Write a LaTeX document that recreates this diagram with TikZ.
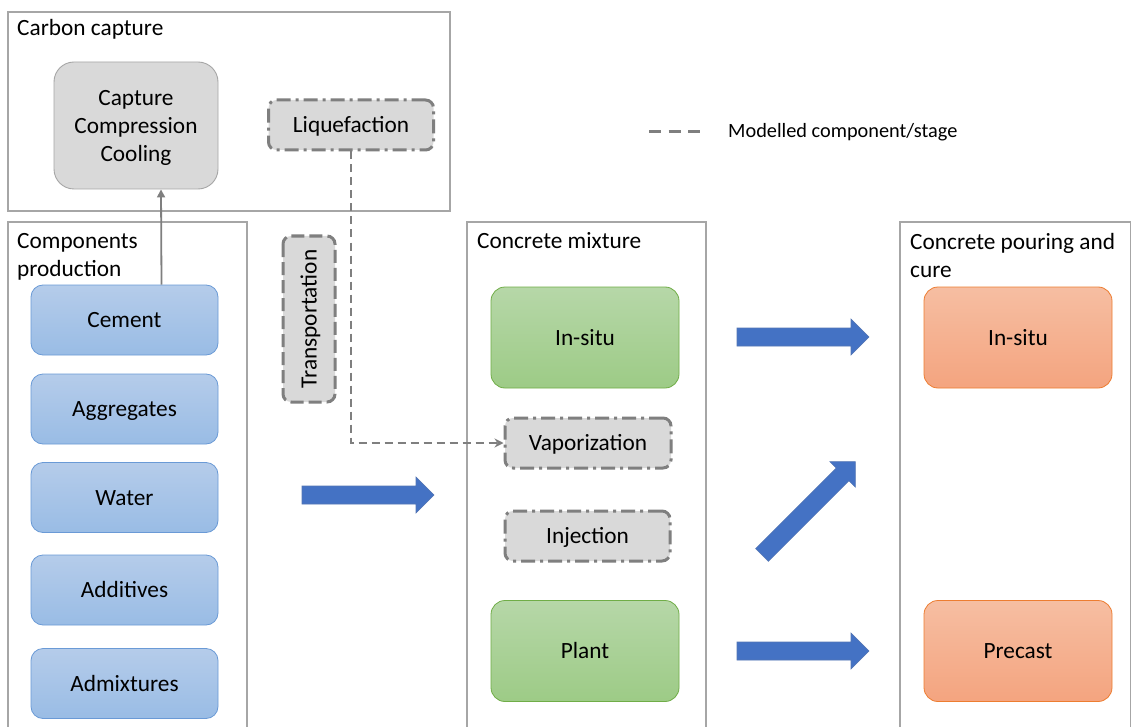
\documentclass[tikz,border=0pt]{standalone}
\usepackage{fontspec}
\setmainfont{Carlito}
\usetikzlibrary{arrows.meta}
\definecolor{framegray}{HTML}{A6A6A6}
\definecolor{dashgray}{HTML}{7F7F7F}
\definecolor{boxgray}{HTML}{D9D9D9}
\definecolor{bluetop}{HTML}{B5CCEA}
\definecolor{bluebot}{HTML}{99BCE5}
\definecolor{blueline}{HTML}{6A9AD6}
\definecolor{greentop}{HTML}{B6D7A8}
\definecolor{greenbot}{HTML}{9DCB86}
\definecolor{greenline}{HTML}{70AD47}
\definecolor{orangetop}{HTML}{F6BEA2}
\definecolor{orangebot}{HTML}{F4A47F}
\definecolor{orangeline}{HTML}{ED7D31}
\definecolor{arrowblue}{HTML}{4472C4}
\tikzset{
  txt/.style={font=\fontsize{23.3}{28}\selectfont, text=black},
  ctxt/.style={txt, text height=15pt, text depth=0pt},
  legtxt/.style={font=\fontsize{20.3}{24}\selectfont, text=black},
  frame/.style={draw=framegray, line width=1.1pt},
  comp/.style={ctxt, rectangle, rounded corners=12pt, minimum width=187pt, minimum height=70pt,
    top color=bluetop, bottom color=bluebot, draw=blueline, line width=0.8pt, inner sep=0pt},
  greenbox/.style={ctxt, rectangle, rounded corners=14pt, minimum width=188pt, minimum height=101pt,
    top color=greentop, bottom color=greenbot, draw=greenline, line width=0.8pt, inner sep=0pt},
  orangebox/.style={ctxt, rectangle, rounded corners=14pt, minimum width=188pt, minimum height=101pt,
    top color=orangetop, bottom color=orangebot, draw=orangeline, line width=0.8pt, inner sep=0pt},
  dashdotbox/.style={ctxt, rectangle, rounded corners=8pt, fill=boxgray, draw=dashgray, line width=3pt,
    dash pattern=on 14pt off 5pt on 3pt off 5pt, minimum width=165pt, minimum height=50pt, inner sep=0pt},
  dashbox/.style={ctxt, rectangle, rounded corners=8pt, fill=boxgray, draw=dashgray, line width=3pt,
    dash pattern=on 13pt off 5pt, inner sep=0pt},
  conn/.style={draw=dashgray, line width=2.2pt, dash pattern=on 8pt off 5pt},
  blockarrow/.pic={
    \filldraw[fill=arrowblue, draw=arrowblue!75!gray, line width=0.6pt]
      (0,-9) -- (114,-9) -- (114,-18) -- (132,0) -- (114,18) -- (114,9) -- (0,9) -- cycle;
  },
}
\begin{document}
\begin{tikzpicture}[x=1pt,y=-1pt]
\useasboundingbox (0,0) rectangle (1131,727);
\fill[white] (0,0) rectangle (1131,727);

% frames
\draw[frame] (8,12) rectangle (450,211);
\draw[frame] (8,730) -- (8,222) -- (247,222) -- (247,730);
\draw[frame] (467,730) -- (467,222) -- (706,222) -- (706,730);
\draw[frame] (900,730) -- (900,222) -- (1130.5,222) -- (1130.5,730);

% frame titles
\node[txt, anchor=base west, inner sep=0pt] (t1) at (17,35.5) {Carbon capture};
\node[txt, anchor=north west, align=left, inner sep=0pt] (t2) at (17,233.5) {Components\\production};
\node[txt, anchor=base west, inner sep=0pt] (t3) at (477,248) {Concrete mixture};
\node[txt, anchor=north west, align=left, inner sep=0pt] (t4) at (910,233.5) {Concrete pouring and\\cure};

% carbon capture content
\node[txt, text depth=0pt, rectangle, rounded corners=20pt, fill=boxgray, draw=framegray, line width=0.9pt,
  minimum width=164pt, minimum height=127pt, align=center, inner sep=0pt] (cap) at (136,125.5)
  {Capture\\Compression\\Cooling};
\node[dashdotbox] (liq) at (351,125) {Liquefaction};

% legend
\coordinate (lega) at (649,132);
\coordinate (legb) at (700,132);
\draw[draw=dashgray, line width=3pt, dash pattern=on 12pt off 7.5pt] (lega) -- (legb);
\node[legtxt, anchor=base west, inner sep=0pt] (leg) at (728,137.5) {Modelled component/stage};

% components
\node[comp] (cement) at (124.5,320) {Cement};
\node[comp] (aggr) at (124.5,409) {Aggregates};
\node[comp] (water) at (124.5,497.5) {Water};
\node[comp] (addit) at (124.5,590) {Additives};
\node[comp] (admix) at (124.5,683.5) {Admixtures};

\draw[draw=dashgray, line width=1.8pt, -{Triangle[length=8pt,width=8pt]}]
  ([xshift=37pt]cement.north) -- ([xshift=25pt]cap.south);

% transportation
\node[dashbox, rotate=90, minimum width=166pt, minimum height=52pt] (trans) at (309,319) {Transportation};

% concrete mixture
\node[greenbox] (insitu1) at (585,337.5) {In-situ};
\node[dashdotbox, minimum width=166pt] (vap) at (588,443) {Vaporization};
\node[dashdotbox] (inj) at (587.5,536) {Injection};
\node[greenbox] (plant) at (585,651) {Plant};

\draw[conn, -{Stealth[length=9pt,width=9pt]}] (liq.south) |- (vap.west);

% pouring
\node[orangebox] (insitu2) at (1018,337.5) {In-situ};
\node[orangebox] (precast) at (1018,651) {Precast};

% block arrows
\pic (ba1) at (302,495) {blockarrow};
\pic (ba2) at (737,337) {blockarrow};
\pic (ba3) at (737,651) {blockarrow};
\pic[rotate=45] (ba4) at (762,555) {blockarrow};
\end{tikzpicture}
\end{document}
